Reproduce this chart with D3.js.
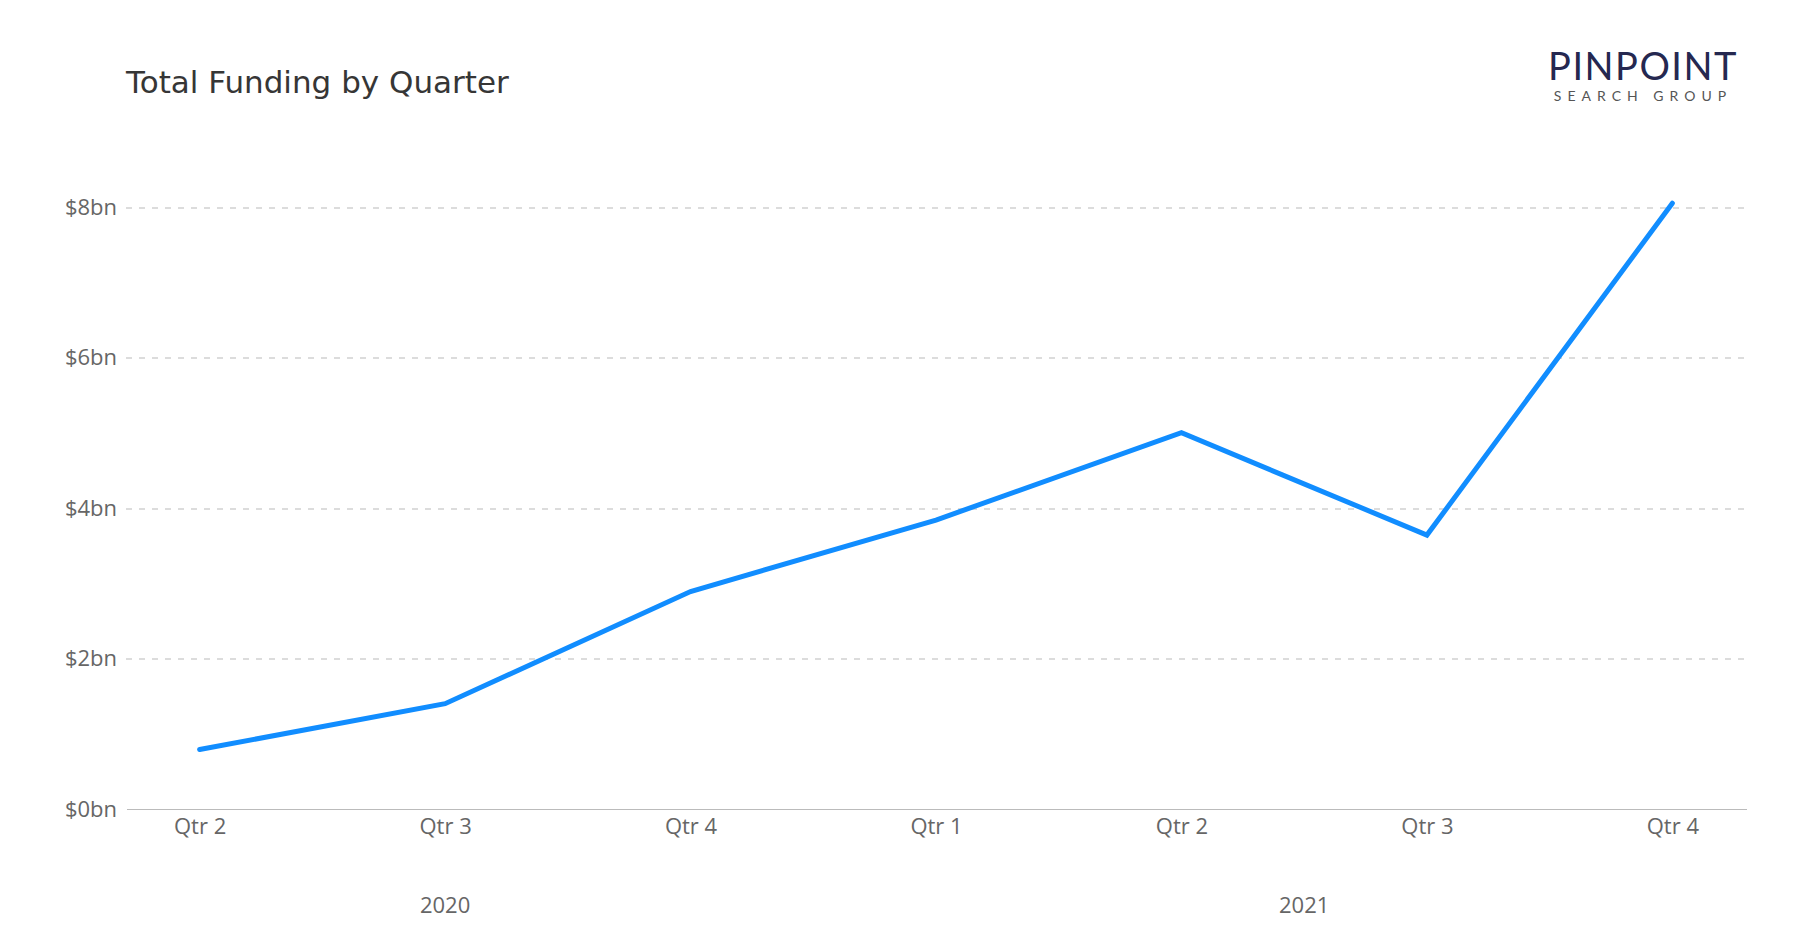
<!DOCTYPE html>
<html>
<head>
<meta charset="utf-8">
<script src="https://cdn.jsdelivr.net/npm/d3@7"></script>
<style>
  body { margin: 0; background: #fff; }
  text { font-family: "Open Sans", sans-serif; }
  .axis path, .axis line { shape-rendering: crispEdges; }
  .tick-label { fill: #666; font-size: 22px; }
</style>
</head>
<body>
<div id="chart-area"></div>
<script>
// chart data
var quarters = ['Qtr 2', 'Qtr 3', 'Qtr 4', 'Qtr 1', 'Qtr 2', 'Qtr 3', 'Qtr 4'];
var years = ['2020', '2020', '2020', '2021', '2021', '2021', '2021'];
var funding = [0.79, 1.40, 2.89, 3.84, 5.00, 3.64, 8.05]; // $bn
var yTicks = [0, 2, 4, 6, 8];

var margin = { left: 126, right: 54, top: 207, bottom: 121 };
var width = 1800 - margin.left - margin.right,
    height = 930 - margin.top - margin.bottom;

var svg = d3.select('#chart-area')
    .append('svg')
        .attr('width', 1800)
        .attr('height', 930);

var g = svg.append('g')
    .attr('transform', 'translate(' + margin.left + ',' + margin.top + ')');

// title
svg.append('text')
    .attr('x', 126)
    .attr('y', 93)
    .attr('fill', '#363636')
    .style('font-family', '"DejaVu Sans", sans-serif')
    .style('font-size', '31px')
    .text('Total Funding by Quarter');

// logo
var logo = svg.append('g').attr('transform', 'translate(1643,0)');
logo.append('text')
    .attr('x', 0).attr('y', 80)
    .attr('text-anchor', 'middle')
    .attr('fill', '#252850')
    .style('font-family', 'Lato, sans-serif')
    .style('font-weight', 400)
    .style('font-size', '38px')
    .style('letter-spacing', '1.5px')
    .text('PINPOINT');
logo.append('text')
    .attr('x', 0).attr('y', 101)
    .attr('text-anchor', 'middle')
    .attr('fill', '#555')
    .style('font-family', 'Lato, sans-serif')
    .style('font-weight', 400)
    .style('font-size', '14px')
    .style('letter-spacing', '6px')
    .text('SEARCH GROUP');

// scales
var idx = d3.range(funding.length);
var xScale = d3.scalePoint().domain(idx).range([0, width]).padding(0.3);
var yScale = d3.scaleLinear().domain([0, 8]).range([height, 0]);

// y axis + gridlines
var yAxis = d3.axisLeft(yScale)
    .tickValues(yTicks)
    .tickSize(-width)
    .tickPadding(9)
    .tickFormat(function(d) { return '$' + d + 'bn'; });
var yAxisGroup = g.append('g').attr('class', 'y axis').call(yAxis);
yAxisGroup.select('.domain').remove();
yAxisGroup.selectAll('.tick line')
    .attr('stroke', '#dcdcdc')
    .attr('stroke-width', 2)
    .attr('stroke-dasharray', '6,7')
    .filter(function(d) { return d === 0; }).remove();
yAxisGroup.selectAll('.tick text')
    .attr('class', 'tick-label')
    .style('font-family', '"Open Sans", sans-serif');

// x axis
var xAxis = d3.axisBottom(xScale)
    .tickSize(0)
    .tickPadding(9)
    .tickFormat(function(i) { return quarters[i]; });
var xAxisGroup = g.append('g').attr('class', 'x axis')
    .attr('transform', 'translate(0,' + height + ')')
    .call(xAxis);
xAxisGroup.select('.domain')
    .attr('stroke', '#bbb')
    .attr('stroke-width', 1.5);
xAxisGroup.selectAll('.tick text')
    .attr('class', 'tick-label')
    .style('font-family', '"Open Sans", sans-serif');

// year labels centred under their quarters
var yearNames = Array.from(new Set(years));
yearNames.forEach(function(yr) {
    var members = idx.filter(function(i) { return years[i] === yr; });
    var cx = (xScale(members[0]) + xScale(members[members.length - 1])) / 2;
    g.append('text')
        .attr('class', 'tick-label')
        .attr('x', cx)
        .attr('y', height + 104)
        .attr('text-anchor', 'middle')
        .text(yr);
});

// line
var line = d3.line()
    .x(function(i) { return xScale(i); })
    .y(function(i) { return yScale(funding[i]); });

g.append('path')
    .datum(idx)
    .attr('fill', 'none')
    .attr('stroke', '#118dff')
    .attr('stroke-width', 5)
    .attr('stroke-linecap', 'round')
    .attr('stroke-linejoin', 'miter')
    .attr('d', line);
</script>
</body>
</html>
